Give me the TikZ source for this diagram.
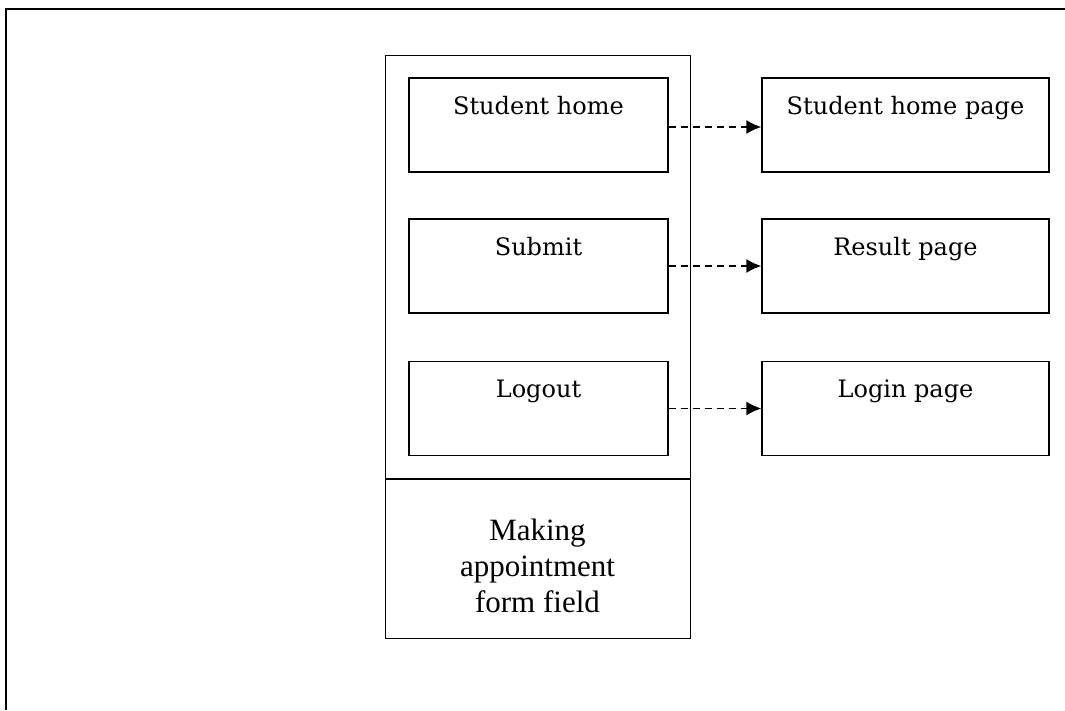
\documentclass[tikz,border=0pt]{standalone}
\usepackage{fontspec}
\setmainfont{DejaVu Serif}
\newfontfamily\formfont{Liberation Serif}
\usetikzlibrary{arrows.meta}
\begin{document}
\begin{tikzpicture}[x=1pt,y=-1pt,
  line width=1.4pt,
  box/.style={draw, line width=1.4pt, minimum width=259pt, minimum height=94pt, inner sep=0pt},
  pagebox/.style={draw, line width=1.4pt, minimum width=287pt, minimum height=94pt, inner sep=0pt},
  boxtext/.style={font=\fontsize{24}{28}\selectfont, anchor=base, inner sep=0pt},
  link/.style={draw, line width=1.4pt, dash pattern=on 7pt off 5pt, -{Latex[length=15pt,width=14pt]}}
]
\useasboundingbox (0,0) rectangle (1065,710);
% outer frame (top and left edges)
\coordinate (ftr) at (1065,9);
\coordinate (ftl) at (6,9);
\coordinate (fbl) at (6,710);
\draw[line width=1.6pt] (ftr) -- (ftl) -- (fbl);
% container
\node[draw, line width=1.4pt, minimum width=305pt, minimum height=583pt, inner sep=0pt, anchor=north west] (cont) at (385,55) {};
\coordinate (divl) at (385,479);
\coordinate (divr) at (690,479);
\draw (divl) -- (divr);
% inner boxes
\node[box] (home) at (538.5,125) {};
\node[box] (submit) at (538.5,266) {};
\node[box] (logout) at (538.5,408.5) {};
\node[boxtext] (homet) at ([yshift=-37pt]home.north) {Student home};
\node[boxtext] (submitt) at ([yshift=-37pt]submit.north) {Submit};
\node[boxtext] (logoutt) at ([yshift=-37pt]logout.north) {Logout};
% page boxes
\node[pagebox] (homep) at (905.5,125) {};
\node[pagebox] (resultp) at (905.5,266) {};
\node[pagebox] (loginp) at (905.5,408.5) {};
\node[boxtext] (homept) at ([yshift=-37pt]homep.north) {Student home page};
\node[boxtext] (resultpt) at ([yshift=-37pt]resultp.north) {Result page};
\node[boxtext] (loginpt) at ([yshift=-37pt]loginp.north) {Login page};
% links
\draw[link] ([yshift=-2pt]home.east) -- ([yshift=-2pt]homep.west);
\draw[link] (submit.east) -- (resultp.west);
\draw[link] (logout.east) -- (loginp.west);
% form field text
\node[font=\formfont\fontsize{31}{36}\selectfont, align=center, anchor=center, inner sep=0pt] (form) at (537.5,566) {Making\\appointment\\form field};
\end{tikzpicture}
\end{document}
